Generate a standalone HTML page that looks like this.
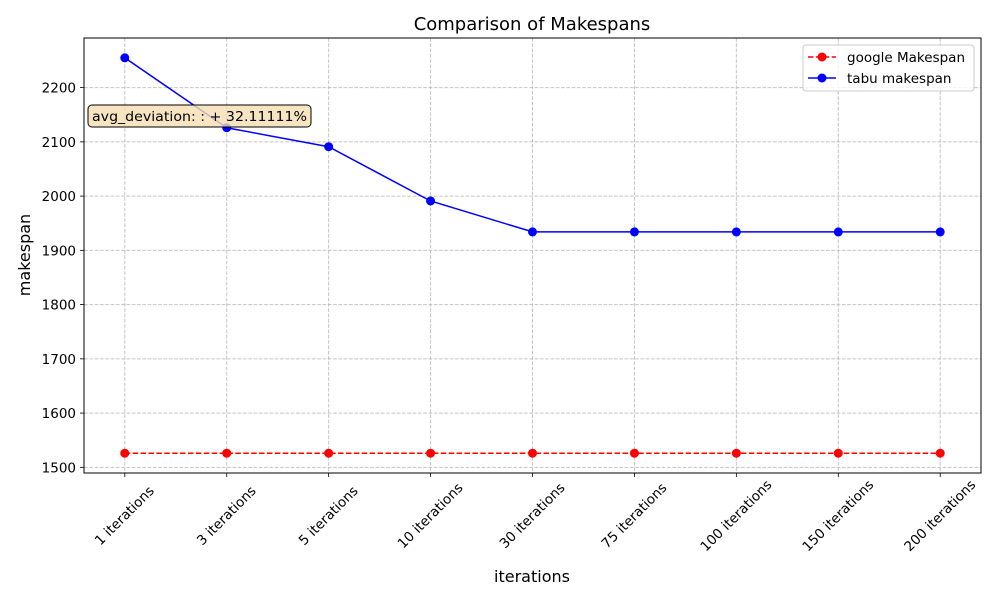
<!DOCTYPE html>
<html><head><meta charset="utf-8"><style>
body{margin:0;background:#fff;}
text{font-family:"DejaVu Sans","Liberation Sans",sans-serif;}
</style></head><body>
<svg id="chart" width="1000" height="600" xmlns="http://www.w3.org/2000/svg">
<rect width="1000" height="600" fill="#fff"/>
<g id="grid"></g>
<g id="axes"></g>
<g id="series"></g>
<text x="532" y="30" text-anchor="middle" font-size="18">Comparison of Makespans</text>
<text x="532" y="582" text-anchor="middle" font-size="16">iterations</text>
<text transform="translate(30,255) rotate(-90)" text-anchor="middle" font-size="16">makespan</text>
<g>
<rect x="88" y="105" width="223" height="22" rx="4" fill="#f5deb3" fill-opacity="0.8" stroke="#000" stroke-width="1"/>
<text x="92" y="121" font-size="13.5" textLength="215" lengthAdjust="spacingAndGlyphs">avg_deviation: : + 32.11111%</text>
</g>
<g>
<rect x="803" y="45" width="171" height="46" rx="3" fill="#fff" fill-opacity="0.8" stroke="#ccc"/>
<g>
<line x1="808" y1="57" x2="836" y2="57" stroke="red" stroke-width="1.5" stroke-dasharray="5.5,2.4"/>
<circle cx="822" cy="57" r="4.5" fill="red"/>
<text x="847" y="62" font-size="13.5">google Makespan</text>
</g>
<g>
<line x1="808" y1="78" x2="836" y2="78" stroke="blue" stroke-width="1.5"/>
<circle cx="822" cy="78" r="4.5" fill="blue"/>
<text x="847" y="83" font-size="13.5">tabu makespan</text>
</g>
</g>
</svg>
<script>
const categories=["1 iterations","3 iterations","5 iterations","10 iterations","30 iterations","75 iterations","100 iterations","150 iterations","200 iterations"];
const googleValues=[1526,1526,1526,1526,1526,1526,1526,1526,1526];
const tabuValues=[2255,2126,2091,1991,1934,1934,1934,1934,1934];
const yTicks=[1500,1600,1700,1800,1900,2000,2100,2200];
const NS="http://www.w3.org/2000/svg";
const L=84,R=981,T=38,B=473;
const all=googleValues.concat(tabuValues);
const mn=Math.min(...all),mx=Math.max(...all),pad=(mx-mn)*0.05;
const y0=mn-pad,y1=mx+pad;
const xs=i=>{const n=categories.length;const p=(n-1)*0.05;return L+(i+p)/(n-1+2*p)*(R-L);};
const ys=v=>B-(v-y0)/(y1-y0)*(B-T);
function mk(tag,attrs,parent){const e=document.createElementNS(NS,tag);for(const k in attrs)e.setAttribute(k,attrs[k]);parent.appendChild(e);return e;}
const grid=document.getElementById('grid'),axes=document.getElementById('axes'),ser=document.getElementById('series');
categories.forEach((c,i)=>{
 const x=xs(i);
 const g=mk('line',{x1:x,x2:x,y1:T,y2:B,stroke:'#b0b0b0','stroke-opacity':0.75,'stroke-dasharray':'3.7,1.6','stroke-width':1},grid);
 
 
 const t=mk('line',{x1:x,x2:x,y1:B,y2:B+4,stroke:'#000','stroke-width':0.8},axes);
 
 
 const lb=mk('text',{transform:`translate(${x},516) rotate(-45)`,'text-anchor':'middle','dominant-baseline':'central','font-size':13.5},axes);
 lb.textContent=c;
 
 
});
yTicks.forEach(v=>{
 const y=ys(v);
 const g=mk('line',{x1:L,x2:R,y1:y,y2:y,stroke:'#b0b0b0','stroke-opacity':0.75,'stroke-dasharray':'3.7,1.6','stroke-width':1},grid);
 
 
 const t=mk('line',{x1:L-4,x2:L,y1:y,y2:y,stroke:'#000','stroke-width':0.8},axes);
 
 
 const lb=mk('text',{x:L-8,y:y+5,'text-anchor':'end','font-size':13.5},axes);
 lb.textContent=v;
 
 
});
const frame=mk('rect',{x:L,y:T,width:R-L,height:B-T,fill:'none',stroke:'#000','stroke-width':1},axes);


function drawSeries(vals,color,dash,name){
 const pl=mk('polyline',{points:vals.map((v,i)=>xs(i)+','+ys(v)).join(' '),fill:'none',stroke:color,'stroke-width':1.5,'stroke-dasharray':dash},ser);
 
 
 vals.forEach((v,i)=>{
  const c=mk('circle',{cx:xs(i),cy:ys(v),r:4.5,fill:color},ser);
  
  
 });
}
drawSeries(googleValues,'red','5.5,2.4','google-makespan');
drawSeries(tabuValues,'blue','none','tabu-makespan');
</script>
</body></html>
